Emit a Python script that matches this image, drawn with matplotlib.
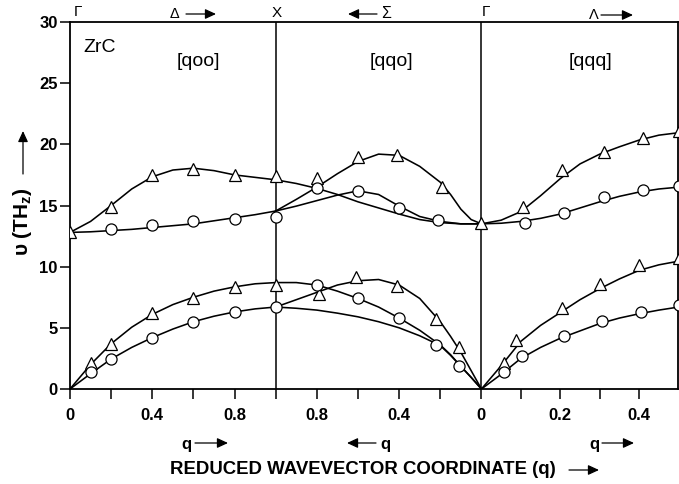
import matplotlib
matplotlib.use("Agg")
import matplotlib.pyplot as plt
import numpy as np

plt.rcParams['font.family'] = ['Liberation Sans', 'DejaVu Sans']
plt.rcParams['mathtext.fontset'] = 'custom'
plt.rcParams['mathtext.rm'] = 'Liberation Sans'
plt.rcParams['mathtext.bf'] = 'Liberation Sans:bold'

# ---------------- data ----------------
# Segment 1: Gamma -> X  ([q00], Delta), q from 0 to 1
s1_q = [0, 0.1, 0.2, 0.3, 0.4, 0.5, 0.6, 0.7, 0.8, 0.9, 1.0]
s1_opt_up = [12.8, 13.7, 15.0, 16.35, 17.35, 17.9, 18.05, 17.85, 17.5, 17.3, 17.1]
s1_opt_lo = [12.8, 12.85, 12.95, 13.05, 13.2, 13.35, 13.5, 13.75, 14.0, 14.25, 14.55]
s1_ac_up = [0, 2.0, 3.7, 5.05, 6.1, 6.9, 7.5, 8.0, 8.35, 8.6, 8.7]
s1_ac_lo = [0, 1.25, 2.45, 3.4, 4.2, 4.9, 5.5, 5.95, 6.3, 6.55, 6.7]

s1_tri_q = [0, 0.2, 0.4, 0.6, 0.8, 1.0]
s1_tri_opt = [12.8, 14.9, 17.5, 18.0, 17.5, 17.4]
s1_cir_q = [0.2, 0.4, 0.6, 0.8, 1.0]
s1_cir_opt = [13.1, 13.4, 13.7, 13.9, 14.1]
s1_ac_q = [0.1, 0.2, 0.4, 0.6, 0.8, 1.0]
s1_tri_ac = [2.1, 3.7, 6.2, 7.4, 8.3, 8.5]
s1_cir_ac = [1.4, 2.45, 4.2, 5.5, 6.3, 6.7]

# Segment 2: X -> Gamma ([qq0], Sigma), q from 1 to 0
s2_q = [1.0, 0.9, 0.8, 0.7, 0.6, 0.5, 0.4, 0.3, 0.2, 0.15, 0.1, 0.05, 0.0]
s2_opt_a = [17.1, 16.8, 16.4, 15.9, 15.3, 14.8, 14.3, 13.85, 13.6, 13.55, 13.5, 13.5, 13.5]
s2_opt_b = [14.55, 15.5, 16.5, 17.6, 18.6, 19.2, 19.1, 18.2, 16.9, 15.9, 14.7, 13.85, 13.5]
s2_opt_c = [14.55, 14.95, 15.4, 15.85, 16.2, 15.9, 14.95, 14.1, 13.7, 13.6, 13.5, 13.5, 13.5]
s2_ac_a = [8.7, 8.7, 8.5, 8.0, 7.4, 6.7, 5.8, 4.8, 3.6, 2.8, 1.85, 0.95, 0]
s2_ac_b = [6.7, 7.3, 7.9, 8.5, 8.85, 8.95, 8.5, 7.4, 5.5, 4.3, 3.0, 1.5, 0]
s2_ac_c = [6.7, 6.6, 6.45, 6.2, 5.9, 5.5, 5.0, 4.35, 3.55, 2.75, 1.85, 0.95, 0]

s2_tri_opt_q = [0.8, 0.6, 0.41, 0.19, 0.0]
s2_tri_opt = [17.25, 19.0, 19.1, 16.5, 13.6]
s2_cir_opt_q = [0.8, 0.6, 0.4, 0.21]
s2_cir_opt = [16.4, 16.2, 14.8, 13.8]
s2_tri_ac_q = [0.79, 0.61, 0.41, 0.22, 0.11]
s2_tri_ac = [7.8, 9.15, 8.4, 5.7, 3.4]
s2_cir_ac_q = [0.8, 0.6, 0.4, 0.22, 0.11]
s2_cir_ac = [8.5, 7.4, 5.8, 3.6, 1.9]

# Segment 3: Gamma -> L ([qqq], Lambda), q from 0 to 0.5
s3_q = [0, 0.05, 0.1, 0.15, 0.2, 0.25, 0.3, 0.35, 0.4, 0.45, 0.5]
s3_opt_up = [13.5, 13.8, 14.5, 15.8, 17.2, 18.4, 19.2, 19.8, 20.35, 20.75, 20.95]
s3_opt_lo = [13.5, 13.55, 13.7, 13.95, 14.3, 14.8, 15.3, 15.75, 16.1, 16.35, 16.5]
s3_ac_up = [0, 1.9, 3.9, 5.2, 6.25, 7.3, 8.2, 9.0, 9.7, 10.15, 10.45]
s3_ac_lo = [0, 1.2, 2.5, 3.4, 4.15, 4.75, 5.35, 5.8, 6.15, 6.45, 6.7]

s3_tri_opt_q = [0.105, 0.205, 0.31, 0.41, 0.5]
s3_tri_opt = [14.9, 17.9, 19.4, 20.5, 21.1]
s3_cir_opt_q = [0.11, 0.21, 0.31, 0.41, 0.5]
s3_cir_opt = [13.55, 14.4, 15.7, 16.3, 16.6]
s3_tri_ac_q = [0.058, 0.088, 0.205, 0.30, 0.40, 0.5]
s3_tri_ac = [2.15, 4.0, 6.6, 8.55, 10.15, 10.7]
s3_cir_ac_q = [0.058, 0.104, 0.21, 0.306, 0.405, 0.5]
s3_cir_ac = [1.35, 2.7, 4.35, 5.55, 6.3, 6.85]

s1_ticks = [0, 0.2, 0.4, 0.6, 0.8]
s1_ticklabels = ['0', '', '0.4', '', '0.8']
s2_ticks = [0.8, 0.6, 0.4, 0.2, 0.0]
s2_ticklabels = ['0.8', '', '0.4', '', '0']
s3_ticks = [0.1, 0.2, 0.3, 0.4]
s3_ticklabels = ['', '0.2', '', '0.4']
y_ticks = [0, 5, 10, 15, 20, 25, 30]

# ------------- coordinate mapping per segment -------------
S3 = 1.917
def x1(q): return np.asarray(q, float)
def x2(q): return 1.0 + (1.0 - np.asarray(q, float))
def x3(q): return 2.0 + S3 * np.asarray(q, float)

W, H = 679, 484
fig = plt.figure(figsize=(W / 100, H / 100), dpi=100)
ax = fig.add_axes([70 / W, 1 - 389 / H, 608 / W, 367 / H])

lkw = dict(color='black', lw=1.15, zorder=2, solid_joinstyle='round')
for v in (s1_opt_up, s1_opt_lo, s1_ac_up, s1_ac_lo):
    ax.plot(x1(s1_q), v, **lkw)
for v in (s2_opt_a, s2_opt_b, s2_opt_c, s2_ac_a, s2_ac_b, s2_ac_c):
    ax.plot(x2(s2_q), v, **lkw)
for v in (s3_opt_up, s3_opt_lo, s3_ac_up, s3_ac_lo):
    ax.plot(x3(s3_q), v, **lkw)

tkw = dict(ls='none', marker='^', ms=8.5, mfc='white', mec='black', mew=0.9, zorder=4)
ckw = dict(ls='none', marker='o', ms=8, mfc='white', mec='black', mew=0.9, zorder=4)
ax.plot(x1(s1_tri_q), s1_tri_opt, **tkw)
ax.plot(x1(s1_cir_q), s1_cir_opt, **ckw)
ax.plot(x1(s1_ac_q), s1_tri_ac, **tkw)
ax.plot(x1(s1_ac_q), s1_cir_ac, **ckw)
ax.plot(x2(s2_tri_opt_q), s2_tri_opt, **tkw)
ax.plot(x2(s2_cir_opt_q), s2_cir_opt, **ckw)
ax.plot(x2(s2_tri_ac_q), s2_tri_ac, **tkw)
ax.plot(x2(s2_cir_ac_q), s2_cir_ac, **ckw)
ax.plot(x3(s3_tri_opt_q), s3_tri_opt, **tkw)
ax.plot(x3(s3_cir_opt_q), s3_cir_opt, **ckw)
ax.plot(x3(s3_tri_ac_q), s3_tri_ac, **tkw)
ax.plot(x3(s3_cir_ac_q), s3_cir_ac, **ckw)

ax.axvline(1.0, color='black', lw=1.1, zorder=1)
ax.axvline(2.0, color='black', lw=1.1, zorder=1)

ax.set_xlim(0, float(x3(0.5)) - 0.003)
ax.set_ylim(0, 30)

xt = list(x1(s1_ticks)) + [1.0] + list(x2(s2_ticks)) + list(x3(s3_ticks))
xl = s1_ticklabels + [''] + s2_ticklabels + s3_ticklabels
ax.set_xticks(xt)
ax.set_xticklabels(xl, fontsize=12, fontweight='bold')
ax.set_yticks(y_ticks)
ax.set_yticklabels([str(t) for t in y_ticks], fontsize=12, fontweight='bold')
ax.tick_params(axis='x', direction='out', length=7, width=1.1, pad=7)
ax.tick_params(axis='y', direction='out', length=7, width=1.1, pad=2)
for s in ax.spines.values():
    s.set_linewidth(1.3)

# ---------- annotation helpers in figure pixel coords ----------
def ftext(x, y, s, **kw):
    fig.text(x / W, 1 - y / H, s, ha='center', va='center', **kw)

def farrow(x0, y0, x1_, y1_, lw=0.9, hw=3.0, hl=6.5):
    fig.patches.append(matplotlib.patches.FancyArrowPatch(
        (x0 / W, 1 - y0 / H), (x1_ / W, 1 - y1_ / H), transform=fig.transFigure,
        arrowstyle=f'-|>,head_width={hw/10:.2f},head_length={hl/10:.2f}',
        mutation_scale=10, lw=lw, color='black', shrinkA=0, shrinkB=0))

# top labels
ftext(78, 12, 'Γ', fontsize=11)
ftext(175, 14, 'Δ', fontsize=10.5)
farrow(186, 14, 216, 14)
ftext(277, 13, 'X', fontsize=11)
farrow(377, 14, 348, 14)
ftext(386, 14, 'Σ', fontsize=11.5)
ftext(486, 12, 'Γ', fontsize=11)
ftext(594, 15, 'Λ', fontsize=10.5)
farrow(601, 15, 633, 15)

# in-plot labels
ftext(100, 48, 'ZrC', fontsize=14)
ftext(198, 62, '[qoo]', fontsize=14)
ftext(391, 62, '[qqo]', fontsize=14)
ftext(590, 62, '[qqq]', fontsize=14)

# bottom q labels
ftext(186, 444, 'q', fontsize=12, fontweight='bold')
farrow(195, 443, 228, 443)
farrow(376, 443, 347, 443)
ftext(385, 444, 'q', fontsize=12, fontweight='bold')
ftext(594, 444, 'q', fontsize=12, fontweight='bold')
farrow(602, 443, 634, 443)

ftext(363, 470, 'REDUCED WAVEVECTOR COORDINATE (q)', fontsize=13.4, fontweight='bold')
farrow(569, 470, 599, 470)

# y label
fig.text(23 / W, 1 - 222 / H, r'υ (TH$_\mathbf{z}$)', rotation=90, ha='center', va='center',
         fontsize=15, fontweight='bold')
farrow(23, 174, 23, 131)

fig.savefig('out.png', dpi=100)
